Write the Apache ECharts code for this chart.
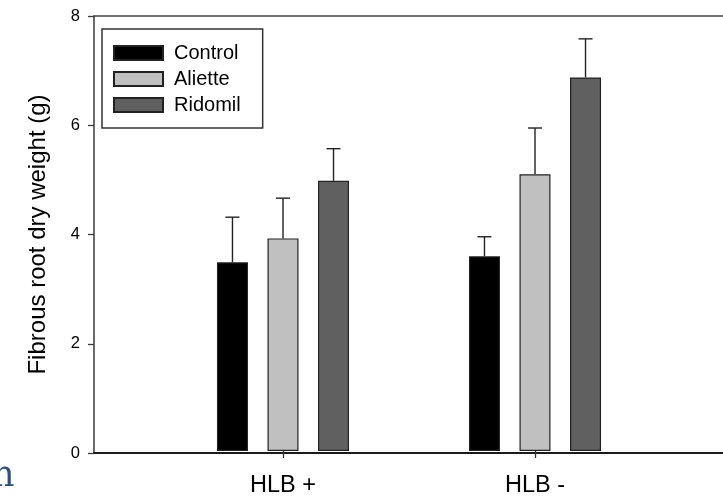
<!DOCTYPE html>
<html>
<head>
<meta charset="utf-8">
<script src="https://cdn.jsdelivr.net/npm/echarts@6/dist/echarts.min.js"></script>
<style>html,body{margin:0;padding:0;background:#fff;}#c{width:723px;height:498px;}</style>
</head>
<body>
<div id="c"></div>
<script>
const categories = ['HLB +', 'HLB -'];
const seriesNames = ['Control', 'Aliette', 'Ridomil'];
const controlMean = [3.47, 3.58];
const alietteMean = [3.91, 5.09];
const ridomilMean = [4.97, 6.87];
const controlSE = [0.83, 0.36];
const alietteSE = [0.74, 0.85];
const ridomilSE = [0.59, 0.71];
const yTicks = [0, 2, 4, 6, 8];

const means = [controlMean, alietteMean, ridomilMean];
const ses = [controlSE, alietteSE, ridomilSE];
const fills = ['#000000', '#c0c0c0', '#606060'];
const BAR_W = 31, GAP = 0.63;
const FONT = '"Liberation Sans", Arial, sans-serif';

const chart = echarts.init(document.getElementById('c'));
const barSeries = seriesNames.map((n, i) => ({
  name: n, type: 'bar', xAxisIndex: 2, yAxisIndex: 1,
  barWidth: BAR_W, barGap: (GAP * 100) + '%',
  itemStyle: { color: fills[i], borderColor: '#222', borderWidth: 1.2 },
  data: means[i], z: 3
}));
const errSeries = seriesNames.map((n, i) => ({
  type: 'custom', xAxisIndex: 2, yAxisIndex: 1, z: 2, silent: true,
  data: means[i].map((m, j) => [j, m, m + ses[i][j]]),
  renderItem: function (params, api) {
    const off = (i - 1) * BAR_W * (1 + GAP);
    const p0 = api.coord([api.value(0), api.value(1)]);
    const p1 = api.coord([api.value(0), api.value(2)]);
    const x = p0[0] + off;
    const style = { stroke: '#222', lineWidth: 1.4 };
    return { type: 'group', children: [
      { type: 'line', shape: { x1: x, y1: p0[1], x2: x, y2: p1[1] }, style: style },
      { type: 'line', shape: { x1: x - 7, y1: p1[1], x2: x + 7, y2: p1[1] }, style: style }
    ]};
  }
}));

chart.setOption({
  animation: false,
  backgroundColor: '#fff',
  grid: [
    { left: 94, top: 16, right: 0, bottom: 45 },
    { left: 157, top: 16, width: 504, bottom: 45 }
  ],
  legend: {
    data: seriesNames, orient: 'vertical', left: 102, top: 29, icon: 'rect',
    padding: [14, 22, 13, 11], itemWidth: 49, itemHeight: 14, itemGap: 6,
    borderColor: '#333', borderWidth: 1.5, backgroundColor: '#fff',
    textStyle: { fontFamily: FONT, fontSize: 20, color: '#000', lineHeight: 20, padding: [0, 0, 0, 6] }
  },
  xAxis: [
    { type: 'category', gridIndex: 0, data: categories, position: 'bottom', axisLine: { lineStyle: { color: '#1a1a1a', width: 1.8 } }, axisTick: { show: false }, axisLabel: { show: false } },
    { type: 'category', gridIndex: 0, data: categories, position: 'top', axisLine: { lineStyle: { color: '#444', width: 1.6 } }, axisTick: { show: false }, axisLabel: { show: false } },
    { type: 'category', gridIndex: 1, data: categories,
      axisLine: { show: false },
      axisTick: { show: true, alignWithLabel: true, length: 7, lineStyle: { color: '#333', width: 1.3 } },
      axisLabel: { fontFamily: FONT, fontSize: 23.5, color: '#000', margin: 23 } }
  ],
  yAxis: [
    { type: 'value', gridIndex: 0, min: yTicks[0], max: yTicks[yTicks.length - 1], interval: 2,
      name: 'Fibrous root dry weight (g)', nameLocation: 'middle', nameRotate: 90, nameGap: 44,
      nameTextStyle: { fontFamily: FONT, fontSize: 24, color: '#000' },
      axisLine: { show: true, lineStyle: { color: '#3a3a3a', width: 1.5 } },
      axisTick: { show: true, length: 6, lineStyle: { color: '#3a3a3a', width: 1.3 } },
      splitLine: { show: false },
      axisLabel: { fontFamily: FONT, fontSize: 16.5, color: '#000', margin: 14 } },
    { type: 'value', gridIndex: 1, min: 0, max: 8, show: false, splitLine: { show: false } }
  ],
  graphic: [
    { type: 'text', left: -8, top: 459, style: { text: 'n', fontFamily: '"DejaVu Serif", serif', fontSize: 35, fill: '#2b5187' } }
  ],
  series: barSeries.concat(errSeries)
});
</script>
</body>
</html>
